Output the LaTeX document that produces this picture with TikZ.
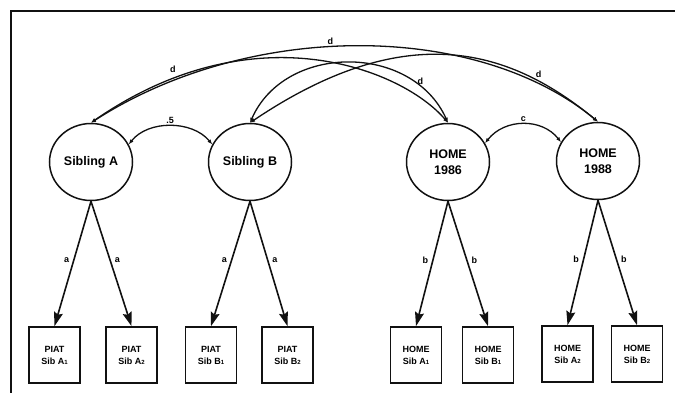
\documentclass[tikz,border=0pt]{standalone}
\usepackage{fontspec}
\setmainfont{Liberation Sans}
\usetikzlibrary{arrows.meta,positioning,shapes.geometric}
\definecolor{Ink}{HTML}{111111}
\newcommand{\smalldigit}[1]{{\fontsize{6}{6}\selectfont #1}}
\tikzset{
  latent/.style={
    ellipse, draw=Ink, line width=1.5pt, inner sep=0pt,
    minimum width=83pt, minimum height=77pt, align=center,
    font=\fontsize{12.5}{16}\selectfont\bfseries
  },
  indicator/.style={
    rectangle, draw=Ink, line width=1.7pt, inner sep=0pt,
    minimum width=51pt, minimum height=56pt, align=center,
    font=\fontsize{9}{12}\selectfont\bfseries
  },
  loading/.style={-{Stealth[length=14pt,width=9pt,inset=2pt]}, line width=1.6pt, draw=Ink},
  corr/.style={{Latex[length=5pt,width=4pt]}-{Latex[length=5pt,width=4pt]}, line width=1.3pt, draw=Ink},
  coef/.style={font=\fontsize{9}{10}\selectfont\bfseries, inner sep=1pt}
}

\begin{document}
\begin{tikzpicture}[x=1pt,y=-1pt]
        \useasboundingbox (0,0) rectangle (675,392);
        \clip (0,0) rectangle (675,392);
        \draw[line width=2pt, draw=Ink] (11,400) -- (11,11) -- (690,11);
        \node[latent] (sibA) at (91,162) {Sibling A};
        \node[latent] (sibB) at (250,162) {Sibling B};
        \node[latent] (home86) at (448,162) {HOME\\1986};
        \node[latent] (home88) at (598,161) {HOME\\1988};
        \node[indicator] (piatA1) at (54.5,355) {PIAT\\Sib A\smalldigit{1}};
        \node[indicator] (piatA2) at (131.5,355) {PIAT\\Sib A\smalldigit{2}};
        \node[indicator] (piatB1) at (211,355) {PIAT\\Sib B\smalldigit{1}};
        \node[indicator] (piatB2) at (287.5,355) {PIAT\\Sib B\smalldigit{2}};
        \node[indicator] (homeA1) at (416,355) {HOME\\Sib A\smalldigit{1}};
        \node[indicator] (homeB1) at (488,355) {HOME\\Sib B\smalldigit{1}};
        \node[indicator] (homeA2) at (567.5,354) {HOME\\Sib A\smalldigit{2}};
        \node[indicator] (homeB2) at (637,354) {HOME\\Sib B\smalldigit{2}};
        \draw[loading] (sibA.south) -- node[coef,pos=0.47,left=3pt] {a} (piatA1.north);
        \draw[loading] (sibA.south) -- node[coef,pos=0.47,right=3pt] {a} (piatA2.north);
        \draw[loading] (sibB.south) -- node[coef,pos=0.47,left=3pt] {a} (piatB1.north);
        \draw[loading] (sibB.south) -- node[coef,pos=0.47,right=3pt] {a} (piatB2.north);
        \draw[loading] (home86.south) -- node[coef,pos=0.47,left=3pt] {b} (homeA1.north);
        \draw[loading] (home86.south) -- node[coef,pos=0.47,right=3pt] {b} (homeB1.north);
        \draw[loading] (home88.south) -- node[coef,pos=0.47,left=3pt] {b} (homeA2.north);
        \draw[loading] (home88.south) -- node[coef,pos=0.47,right=3pt] {b} (homeB2.north);
        \draw[corr] (sibA.25) .. controls (148,120) and (192,120) .. node[coef,above=1pt] {.5} (sibB.155);
        \draw[corr] (home86.27) .. controls (505,118) and (542,118) .. node[coef,above=1pt] {c} (home88.153);
        \draw[corr] (sibA.north) .. controls (249,21) and (476,21) .. node[coef,pos=0.45,above=1pt] {d} (home88.north);
        \draw[corr] (sibA.north) .. controls (255,9) and (403,70) .. node[coef,pos=0.17,above=5pt] {d} (home86.north);
        \draw[corr] (sibB.north) .. controls (285,43) and (412,43) .. node[coef,pos=0.78,right=3pt] {d} (home86.north);
        \draw[corr] (sibB.north) .. controls (410,15) and (512.6,51.6) .. node[coef,pos=0.78,above=2pt] {d} (home88.north);
      \end{tikzpicture}
\end{document}
